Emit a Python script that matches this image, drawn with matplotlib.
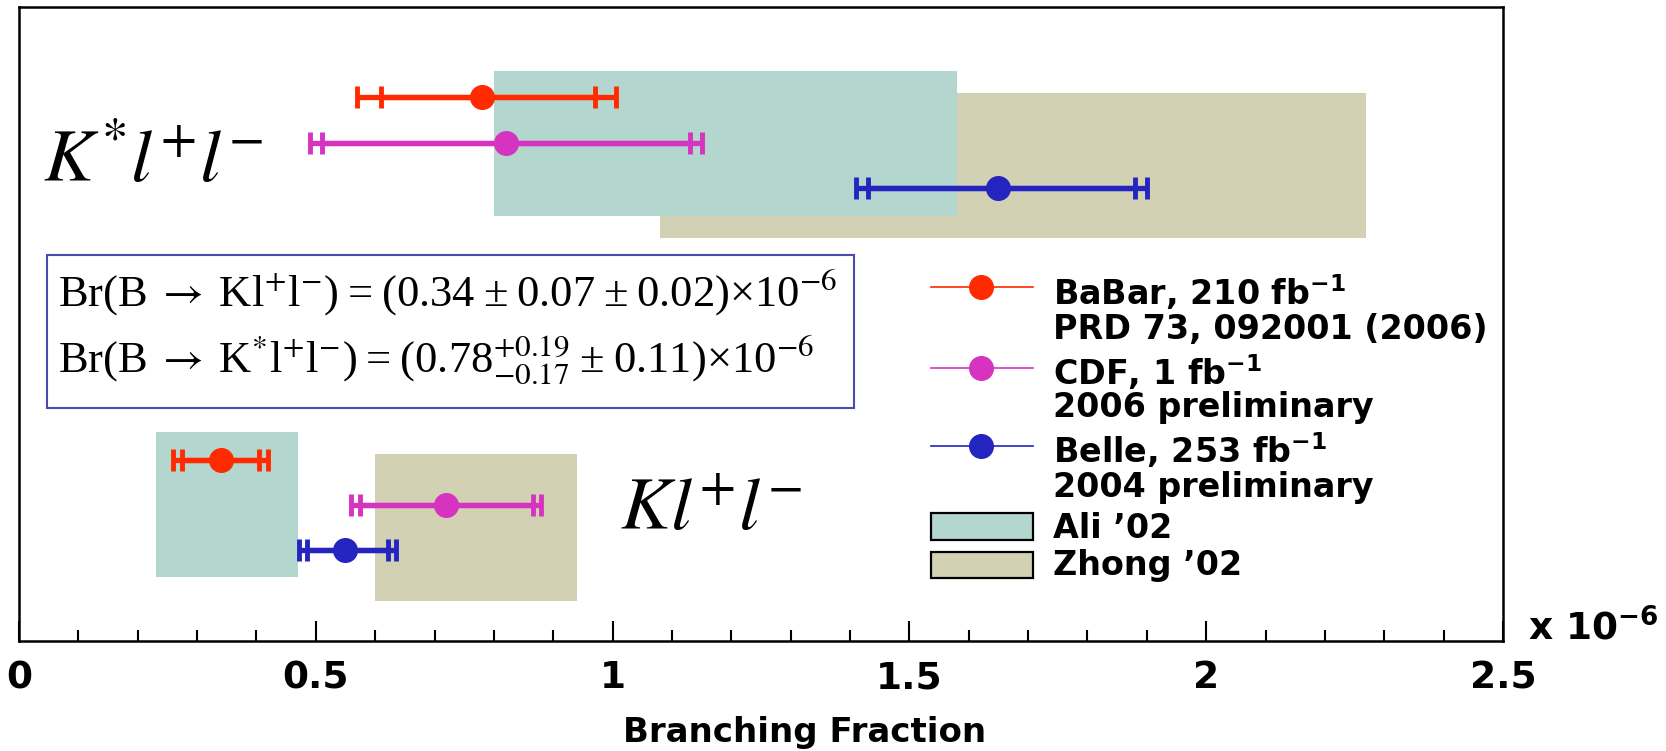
import matplotlib
matplotlib.use("Agg")
import matplotlib.pyplot as plt
from matplotlib.patches import Rectangle
from matplotlib.lines import Line2D
import numpy as np

plt.rcParams.update({"font.family": "DejaVu Sans"})

RED, MAGENTA, BLUE = "#ff2a00", "#d633c0", "#2424c0"
ALI, ZHONG = "#b3d6cf", "#d2d1b4"

# measurements (x 1e-6): central value, stat interval, total interval
experiments = ["BaBar", "CDF", "Belle"]
colors = [RED, MAGENTA, BLUE]
kstar_val = [0.78, 0.82, 1.65]
kstar_stat_lo = [0.61, 0.51, 1.43]
kstar_stat_hi = [0.97, 1.13, 1.88]
kstar_tot_lo = [0.57, 0.49, 1.41]
kstar_tot_hi = [1.005, 1.15, 1.90]
k_val = [0.34, 0.72, 0.55]
k_stat_lo = [0.275, 0.575, 0.485]
k_stat_hi = [0.405, 0.866, 0.621]
k_tot_lo = [0.26, 0.56, 0.472]
k_tot_hi = [0.42, 0.88, 0.635]

# theory predictions (x 1e-6)
theory = ["Ali \u201902", "Zhong \u201902"]
theory_colors = [ALI, ZHONG]
kstar_theory_lo = [0.80, 1.08]
kstar_theory_hi = [1.58, 2.27]
k_theory_lo = [0.23, 0.60]
k_theory_hi = [0.47, 0.94]

# vertical layout (pixel rows, top = 7, bottom = 641)
kstar_rows = [97, 143, 188]
k_rows = [460, 505, 550]
kstar_band = [(71, 216), (93, 238)]
k_band = [(432, 577), (454, 601)]

fig = plt.figure(figsize=(16.66, 7.51), dpi=100)
ax = fig.add_axes([19 / 1666, 110 / 751, 1484 / 1666, 634 / 751])
ax.set_xlim(0, 2.5)
ax.set_ylim(641, 7)


def fx(px):
    return (px - 19) / 1484


def fy(py):
    return (641 - py) / 634


# theory bands: Zhong behind Ali
for i in [1, 0]:
    for lo, hi, band in [(kstar_theory_lo, kstar_theory_hi, kstar_band),
                         (k_theory_lo, k_theory_hi, k_band)]:
        top, bot = band[i]
        ax.barh((top + bot) / 2, hi[i] - lo[i], height=bot - top, left=lo[i],
                color=theory_colors[i], lw=0, zorder=1)

for vals, slo, shi, tlo, thi, rows in [
        (kstar_val, kstar_stat_lo, kstar_stat_hi, kstar_tot_lo, kstar_tot_hi, kstar_rows),
        (k_val, k_stat_lo, k_stat_hi, k_tot_lo, k_tot_hi, k_rows)]:
    for i in range(3):
        v = vals[i]
        ax.errorbar(v, rows[i], xerr=[[v - tlo[i]], [thi[i] - v]], fmt="none",
                    ecolor=colors[i], elinewidth=3.8, capsize=8, capthick=3.5, zorder=3)
        ax.errorbar(v, rows[i], xerr=[[v - slo[i]], [shi[i] - v]], fmt="o",
                    color=colors[i], ms=17, elinewidth=3.8, capsize=8, capthick=3.5, zorder=4)

# axes styling
for s in ax.spines.values():
    s.set_linewidth(1.8)
ax.set_yticks([])
ax.set_xticks(np.arange(0, 2.51, 0.5))
ax.set_xticks(np.arange(0, 2.51, 0.1), minor=True)
ax.set_xticklabels(["0", "0.5", "1", "1.5", "2", "2.5"])
ax.tick_params(axis="x", which="major", direction="in", length=14.5, width=1.5,
               labelsize=27, pad=14)
ax.tick_params(axis="x", which="minor", direction="in", length=7.7, width=1.5)
for lab in ax.get_xticklabels():
    lab.set_fontweight("bold")
ax.set_xlabel("Branching Fraction", fontsize=24.5, fontweight="bold")
ax.xaxis.set_label_coords(fx(805), fy(716))
ax.xaxis.label.set_va("top")

ax.text(fx(1528), fy(640), r"x 10$^{\mathbf{-6}}$", transform=ax.transAxes,
        fontsize=27, fontweight="bold", ha="left", va="baseline",
        math_fontfamily="dejavusans", clip_on=False)

# decay labels
ax.text(fx(43), fy(182), r"$K^{*}l^{+}l^{-}$", transform=ax.transAxes, fontsize=54,
        ha="left", va="baseline", math_fontfamily="stix")
ax.text(fx(620), fy(530), r"$Kl^{+}l^{-}$", transform=ax.transAxes, fontsize=54,
        ha="left", va="baseline", math_fontfamily="stix")

# formula box
ax.add_patch(Rectangle((fx(47), fy(408)), fx(854) - fx(47), fy(255) - fy(408),
                       transform=ax.transAxes, fill=False, ec="#4b4bb0", lw=1.5, zorder=5))
ts = "\u2009"
arrow = r"$\rightarrow$"
ax.text(fx(58), fy(307),
        f"Br(B{ts}{arrow}{ts}Kl$^{{+}}$l$^{{-}}$){ts}={ts}(0.34{ts}\u00b1{ts}0.07{ts}\u00b1{ts}0.02)\u00d710$^{{-6}}$",
        transform=ax.transAxes, fontsize=32, family="Liberation Serif", ha="left",
        va="baseline", math_fontfamily="stix", zorder=6)
ax.text(fx(58), fy(372),
        f"Br(B{ts}{arrow}{ts}K$^{{*}}$l$^{{+}}$l$^{{-}}$){ts}={ts}(0.78$^{{+0.19}}_{{-0.17}}${ts}\u00b1{ts}0.11)\u00d710$^{{-6}}$",
        transform=ax.transAxes, fontsize=32, family="Liberation Serif", ha="left",
        va="baseline", math_fontfamily="stix", zorder=6)

# legend (drawn by hand to keep the two-line entries)
legend_rows = [287, 368, 446]
legend_text = [("BaBar, 210 fb$^{\\mathbf{-1}}$", "PRD 73, 092001 (2006)", 305, 339),
               ("CDF, 1 fb$^{\\mathbf{-1}}$", "2006 preliminary", 385, 417),
               ("Belle, 253 fb$^{\\mathbf{-1}}$", "2004 preliminary", 463, 497)]
for i in range(3):
    ax.add_line(Line2D([fx(931), fx(1033)], [fy(legend_rows[i])] * 2, transform=ax.transAxes,
                       color=colors[i], lw=1.2))
    ax.add_line(Line2D([fx(981)], [fy(legend_rows[i])], transform=ax.transAxes,
                       color=colors[i], marker="o", ms=17, ls="none"))
    l1, l2, b1, b2 = legend_text[i]
    ax.text(fx(1053), fy(b1), l1, transform=ax.transAxes, fontsize=24, fontweight="bold",
            va="baseline", math_fontfamily="dejavusans")
    ax.text(fx(1053), fy(b2), l2, transform=ax.transAxes, fontsize=24, fontweight="bold",
            va="baseline")
theory_boxes = [(513, 540, 538), (552, 578, 575)]
for i in range(2):
    top, bot, base = theory_boxes[i]
    ax.add_patch(Rectangle((fx(931), fy(bot)), fx(1033) - fx(931), fy(top) - fy(bot),
                           transform=ax.transAxes, fc=theory_colors[i], ec="black", lw=1.6))
    ax.text(fx(1053), fy(base), theory[i], transform=ax.transAxes, fontsize=24,
            fontweight="bold", va="baseline")

fig.savefig("out.png", dpi=100)
